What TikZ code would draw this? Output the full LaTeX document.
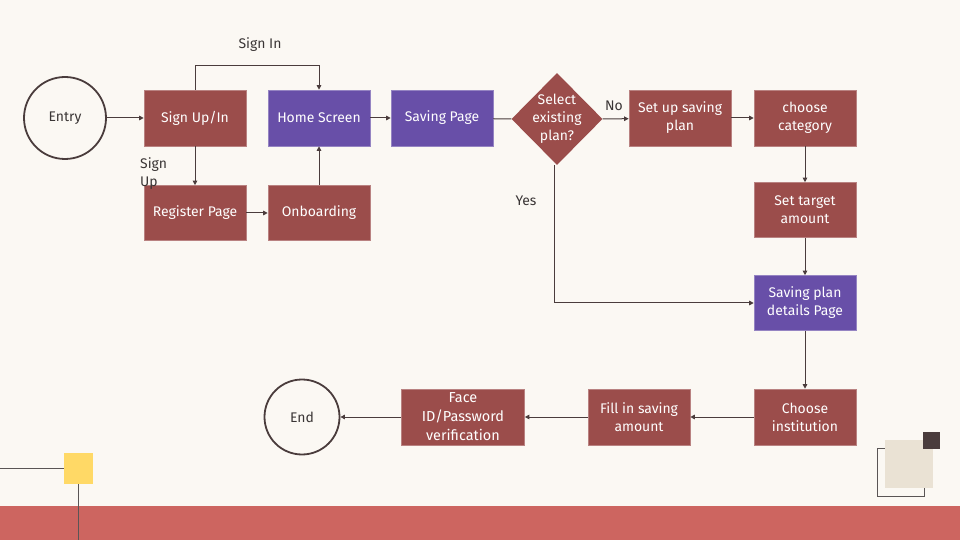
\documentclass[tikz,border=0pt]{standalone}
\usepackage{fontspec}
\setmainfont{Fira Sans}
\usetikzlibrary{shapes.geometric,arrows.meta}
\definecolor{bgcream}{HTML}{FBF8F3}
\definecolor{boxred}{HTML}{9B4D4B}
\definecolor{boxpurple}{HTML}{684FA8}
\definecolor{linedark}{HTML}{4A3C3C}
\definecolor{labeltext}{HTML}{3A3535}
\definecolor{bandred}{HTML}{CD6560}
\definecolor{sunny}{HTML}{FFD966}
\definecolor{beige}{HTML}{EAE2D4}
\definecolor{decogray}{HTML}{5A5555}
\tikzset{
  basefont/.style={font=\fontsize{14}{18}\selectfont},
  stepbox/.style={basefont, rectangle, minimum width=102bp, minimum height=56bp,
    inner sep=1bp, align=center, text=white, fill=boxred, draw=boxred!70!white, line width=0.6bp},
  screenbox/.style={stepbox, fill=boxpurple, draw=boxpurple!70!white},
  terminal/.style={basefont, circle, draw=linedark, line width=1.8bp, fill=bgcream,
    text=labeltext, inner sep=0},
  decision/.style={diamond, fill=boxred, inner sep=0, minimum width=91bp, minimum height=92bp},
  conn/.style={draw=linedark, line width=1bp, -{Triangle[width=4.5bp,length=4.5bp]}},
  plainconn/.style={draw=linedark, line width=1bp},
  edgelabel/.style={basefont, text=labeltext, inner sep=0},
  deco/.style={draw=decogray, line width=1bp}
}
\begin{document}
\begin{tikzpicture}[x=1bp,y=-1bp]
\useasboundingbox (0,0) rectangle (960,540);
\fill[bgcream] (0,0) rectangle (960,540);

% corner ornaments and footer band
\fill[bandred] (0,506) rectangle (960,540);
\draw[deco] (0,468) -- (64,468);
\fill[sunny] (64,453) rectangle (93,484);
\draw[deco] (78,484) -- (78,540);
\draw[deco] (877,448) rectangle (924,496);
\fill[beige] (885,440) rectangle (933,488);
\fill[linedark] (923,432) rectangle (940,449);

% nodes
\node[terminal, minimum size=82bp] (entry) at (65,118) {Entry};
\node[stepbox] (signup) at (195,118) {Sign Up/In};
\node[screenbox] (home) at (319,118) {Home Screen};
\node[screenbox] (saving) at (442,118) {Saving Page};
\node[decision] (select) at (557,119) {};
\node[basefont, text=white, align=center, inner sep=0] (selecttext) at (select.center) {Select\\existing\\plan?};
\node[stepbox] (setup) at (680,118) {Set up saving\\plan};
\node[stepbox] (category) at (805,118) {choose\\category};
\node[stepbox, minimum height=55bp] (target) at (805,210) {Set target\\amount};
\node[screenbox, minimum height=55bp] (details) at (805,303) {Saving plan\\details Page};
\node[stepbox, minimum height=55bp] (register) at (195,213) {Register Page};
\node[stepbox, minimum height=55bp] (onboard) at (319,213) {Onboarding};
\node[stepbox] (institution) at (805,417) {Choose\\institution};
\node[stepbox] (fill) at (639,417) {Fill in saving\\amount};
\node[stepbox, minimum width=123bp, font=\fontsize{14.5}{19}\selectfont] (verify) at (463,417) {Face\\ID/Password\\verification};
\node[terminal, minimum size=75bp] (end) at (302,417) {End};

% connectors
\draw[conn] (entry) -- (signup);
\draw[conn] (signup.north) -- ++(0,-24) -| (home.north);
\draw[conn] (signup) -- (register);
\draw[conn] (register) -- (onboard);
\draw[conn] (onboard) -- (home);
\draw[conn] (home) -- (saving);
\draw[plainconn] (saving) -- (select.west);
\draw[conn] (select.east) -- (setup);
\draw[conn] (setup) -- (category);
\draw[conn] (category) -- (target);
\draw[conn] (target) -- (details);
\draw[conn] ([xshift=-3bp]select.south) |- (details.west);
\draw[conn] (details) -- (institution);
\draw[conn] (institution) -- (fill);
\draw[conn] (fill) -- (verify);
\draw[conn] (verify) -- (end);

% connector labels
\node[edgelabel] (lblsignin) at (260,45) {Sign In};
\node[edgelabel, align=left, anchor=west] (lblsignup) at (140,174) {Sign\\Up};
\node[edgelabel] (lblno) at (614,106) {No};
\node[edgelabel] (lblyes) at (526,201) {Yes};
\end{tikzpicture}
\end{document}
